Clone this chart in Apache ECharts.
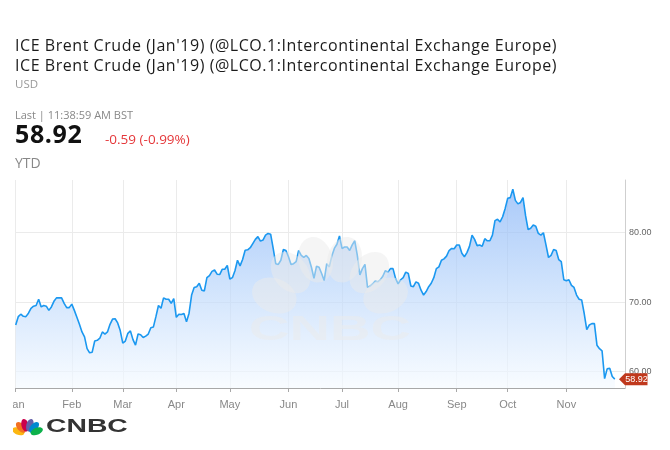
<!DOCTYPE html>
<html><head><meta charset="utf-8">
<script src="https://cdn.jsdelivr.net/npm/echarts@6/dist/echarts.min.js"></script>
<style>
html,body{margin:0;padding:0;background:#fff;width:670px;height:450px;overflow:hidden;}
#chart{position:absolute;left:13px;top:0;width:657px;height:450px;}
.hd{position:absolute;left:15px;white-space:nowrap;font-family:'Open Sans',sans-serif;line-height:1;z-index:5;}
</style></head><body>
<div id="chart"></div>
<div class="hd" style="top:37px;font-size:16px;letter-spacing:0.55px;color:#1c1c1c;">ICE Brent Crude (Jan'19) (@LCO.1:Intercontinental Exchange Europe)</div>
<div class="hd" style="top:57px;font-size:16px;letter-spacing:0.55px;color:#1c1c1c;">ICE Brent Crude (Jan'19) (@LCO.1:Intercontinental Exchange Europe)</div>
<div class="hd" style="top:78px;font-size:11.5px;color:#999;">USD</div>
<div class="hd" style="top:109px;font-size:11px;color:#888;">Last | 11:38:59 AM BST</div>
<div class="hd" style="top:121px;font-size:25px;font-weight:700;letter-spacing:0.6px;color:#111;">58.92</div>
<div class="hd" style="left:105px;top:133px;font-size:13.5px;color:#e5383b;">-0.59 (-0.99%)</div>
<div class="hd" style="top:156px;font-size:14px;color:#888;">YTD</div>
<script>
const monthNames = ['Jan','Feb','Mar','Apr','May','Jun','Jul','Aug','Sep','Oct','Nov','Dec'];
const holidays = ['2018-01-01','2018-03-30'];
const totalSlots = 240;
const lastPrice = 58.92;
const lastLabel = '58.92';
const yTickLabels = [60, 70, 80];
const prices = [
66.7,67.9,68.25,67.95,67.9,68.4,69.1,69.4,69.5,70.4,
69.3,69.5,69.4,68.8,69.3,70.1,70.6,70.6,70.6,69.8,
69.2,69.2,69.7,68.8,67.8,66.8,65.7,65.0,63.3,62.7,
62.8,64.4,64.5,64.8,65.7,65.4,65.7,66.8,67.55,67.6,
67.0,65.9,64.1,64.4,65.5,65.85,64.6,63.8,65.4,65.3,
64.9,65.1,65.4,66.3,66.4,67.9,69.5,69.1,70.6,70.4,
70.4,69.8,70.5,67.8,68.25,68.2,68.35,67.15,68.4,71.0,
72.1,72.2,72.7,71.7,71.6,73.5,73.8,74.4,74.6,74.0,
73.95,74.7,74.7,75.25,73.3,73.5,74.5,76.0,75.2,76.1,
77.45,77.5,77.8,78.4,79.0,79.4,78.75,78.9,79.6,79.85,
79.75,77.7,75.5,75.4,76.0,77.55,77.4,76.5,75.4,75.5,
75.8,77.4,76.7,76.4,76.7,76.25,75.0,73.4,75.15,75.0,
74.1,73.1,75.5,75.05,76.6,77.7,78.3,79.5,77.7,77.9,
77.9,77.4,78.2,78.8,76.7,73.9,74.8,75.4,72.1,72.3,
72.6,73.0,72.9,73.2,73.7,74.5,74.3,74.8,74.8,73.4,
72.6,73.2,73.5,74.3,74.1,72.3,72.2,72.9,72.7,71.7,
71.0,71.5,72.2,72.7,73.5,74.8,75.05,76.0,76.2,76.6,
77.4,77.7,77.65,78.2,78.2,77.0,76.5,77.1,78.0,79.6,
79.0,78.1,78.2,78.0,79.1,78.8,78.8,79.6,81.7,81.9,
81.5,82.25,83.45,84.9,85.0,86.2,84.6,84.1,84.3,85.0,
82.4,80.4,80.6,81.05,80.9,79.85,79.6,79.95,78.2,76.4,
76.7,77.55,77.4,76.1,75.8,73.2,73.05,73.2,72.4,72.1,
71.0,70.4,70.3,68.35,66.05,66.7,66.9,66.9,63.8,63.3,
63.0,59.0,60.4,60.5,59.3,58.92
];

const dates = [];
let d = new Date(Date.UTC(2018,0,1));
while (dates.length < totalSlots) {
  const wd = d.getUTCDay();
  const s = d.toISOString().slice(0,10);
  if (wd !== 0 && wd !== 6 && !holidays.includes(s)) dates.push(s);
  d = new Date(d.getTime() + 86400000);
}
const isMonthStart = (i) => i < prices.length && (i === 0 || dates[i].slice(5,7) !== dates[i-1].slice(5,7));

const chart = echarts.init(document.getElementById('chart'), null, {renderer:'canvas'});
const narrow = '"Liberation Sans Narrow","Liberation Sans",Arial,sans-serif';
const wm = 'rgba(236,236,236,0.5)';

function peacock(bx, by, d, rx, ry, colors, zb) {
  const angles = [-68,-41,-14,14,41,68];
  return angles.map((a, k) => ({
    type:'ellipse', x: bx, y: by, rotation: -a*Math.PI/180, z: zb, silent:true,
    shape:{cx:0, cy:-d, rx:rx, ry:ry},
    style:{fill: colors[k]}
  }));
}

const wmPetals = peacock(317, 318, 60, 17, 23, [wm,wm,wm,wm,wm,wm], 50);
const logoPetals = peacock(14.5, 435, 10, 3.6, 6.4, ['#fcb711','#f37021','#cc004c','#6460aa','#0089d0','#0db14b'], 60);

function decorations(ax, py) {
  const g = wmPetals.concat([
    {type:'text', x:317, y:330, z:50, silent:true, scaleX:1.6,
     style:{text:'CNBC', font:'900 35px "Liberation Sans",Arial,sans-serif', fill:wm, align:'center', verticalAlign:'middle'}}
  ]).concat(logoPetals).concat([
    {type:'circle', x:14.5, y:434, z:61, shape:{r:2.2}, style:{fill:'#fff'}},
    {type:'text', x:33, y:427, z:60, scaleX:1.49,
     style:{text:'CNBC', font:'900 19px "Liberation Sans",Arial,sans-serif', fill:'#333', align:'left', verticalAlign:'middle'}}
  ]);
  if (ax != null) {
    g.push({type:'polygon', z:70, shape:{points:[[ax-6,py],[ax,py-6],[ax+22.5,py-6],[ax+22.5,py+6],[ax,py+6]]},
      style:{fill:'#c0391d'}});
    g.push({type:'text', x:ax+11.5, y:py, z:71,
      style:{text:lastLabel, font:'9px '+narrow, fill:'#fff', align:'center', verticalAlign:'middle'}});
  }
  return g;
}

chart.setOption({
  animation:false,
  grid:{left:2.7, right:45, top:180, bottom:62, containLabel:false, outerBoundsMode:'none'},
  xAxis:{
    type:'category', data:dates, boundaryGap:false,
    axisLine:{lineStyle:{color:'#a8a8a8', width:1}},
    axisTick:{interval:(i)=>isMonthStart(i), length:4, lineStyle:{color:'#a8a8a8'}},
    axisLabel:{interval:(i)=>isMonthStart(i), formatter:(v)=>monthNames[+v.slice(5,7)-1],
      color:'#888', fontSize:11, fontFamily:narrow, margin:11, hideOverlap:false},
    splitLine:{show:true, interval:(i)=>isMonthStart(i), lineStyle:{color:'#ebebeb'}}
  },
  yAxis:{
    type:'value', position:'right', min:57.65, max:87.53, splitNumber:3,
    axisLine:{show:true, lineStyle:{color:'#cfcfcf'}},
    axisTick:{show:false},
    axisLabel:{color:'#666', fontSize:9, fontFamily:narrow, margin:4, showMinLabel:false, showMaxLabel:false,
      formatter:(v)=> yTickLabels.some(t=>Math.abs(t-v)<1e-6) ? v.toFixed(2) : ''},
    splitLine:{lineStyle:{color:'#ebebeb'}, showMinLine:false, showMaxLine:false}
  },
  series:[{
    type:'line', data:prices, showSymbol:false, symbol:'none', z:2,
    lineStyle:{color:'#1b98f0', width:1.6},
    areaStyle:{color:new echarts.graphic.LinearGradient(0,0,0,1,[
      {offset:0,color:'#86b3f6'},{offset:0.45,color:'#b7d4fa'},{offset:1,color:'#f5faff'}])}
  }],
  graphic: decorations(null, null)
});

const py = chart.convertToPixel({yAxisIndex:0}, lastPrice);
const ax = chart.convertToPixel({xAxisIndex:0}, totalSlots-1);
chart.setOption({graphic: decorations(ax, py)}, {replaceMerge:['graphic']});
</script>
</body></html>
